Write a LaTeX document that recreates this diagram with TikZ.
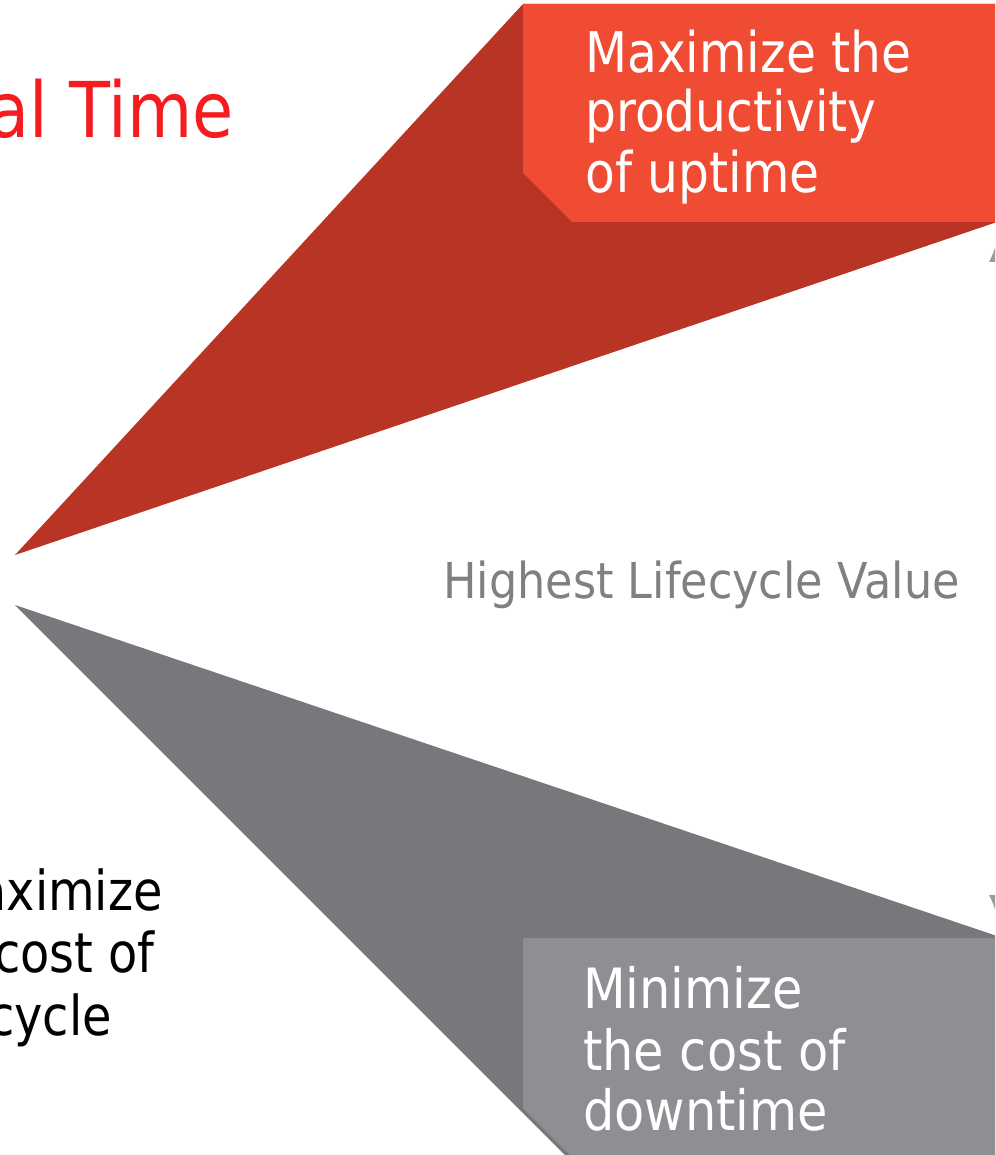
\documentclass[tikz,border=0pt]{standalone}
\usepackage{fontspec}
\newfontfamily\tah[FakeStretch=0.87]{DejaVu Sans}
\newfontfamily\tahw[FakeStretch=0.89]{DejaVu Sans}
\newfontfamily\tahh[FakeStretch=0.90]{DejaVu Sans}
\usetikzlibrary{arrows.meta}
\definecolor{boxred}{HTML}{F04B33}
\definecolor{darkred}{HTML}{B83424}
\definecolor{darkgray}{HTML}{77787B}
\definecolor{boxgray}{HTML}{8E8F93}
\definecolor{titlered}{HTML}{F51C20}
\definecolor{midgray}{HTML}{7F8084}
\definecolor{arrowgray}{HTML}{9A9B9E}
\tikzset{
  boxtxt/.style={anchor=base west, inner sep=0pt, text=white, font=\tah\fontsize{56}{60}\selectfont},
  boxtxtb/.style={anchor=base west, inner sep=0pt, text=white, font=\tahw\fontsize{55.5}{60}\selectfont},
  sidetxt/.style={anchor=base east, inner sep=0pt, text=black, font=\tah\fontsize{55}{60}\selectfont},
}
\begin{document}
\begin{tikzpicture}[x=1pt,y=-1pt]
\useasboundingbox (0,0) rectangle (995,1155);
\clip (0,0) rectangle (995,1155);
% wedges
\fill[darkred] (15,555) -- (523,4) -- (1000,4) -- (1000,221) -- cycle;
\fill[darkgray] (15,605) -- (1000,937) -- (1000,1160) -- (570,1160) -- cycle;
% boxes
\fill[boxred] (523,4) -- (1000,4) -- (1000,222) -- (572,222) -- (523,173) -- cycle;
\fill[boxgray] (523,938) -- (1000,938) -- (1000,1160) -- (575,1160) -- (523,1108) -- cycle;
% arrow
\coordinate (atop) at (997,240);
\coordinate (abot) at (997,917);
\draw[arrowgray, line width=2pt, {Latex[length=22pt,width=16pt]}-{Latex[length=22pt,width=16pt]}] (atop) -- (abot);
% texts
\node[anchor=base east, inner sep=0pt, text=titlered, font=\tah\fontsize{77}{80}\selectfont] (title) at (234,138) {al Time};
\node[anchor=base west, inner sep=0pt, text=midgray, font=\tahh\fontsize{49.5}{52}\selectfont] (hlv) at (443,598) {Highest Lifecycle Value};
\node[boxtxt] (m1) at (585,73) {Maximize the};
\node[boxtxt] (m2) at (585,132) {productivity};
\node[boxtxt] (m3) at (585,193) {of uptime};
\node[boxtxtb] (n1) at (583,1008) {Minimize};
\node[boxtxtb] (n2) at (583,1070) {the cost of};
\node[boxtxtb] (n3) at (583,1130) {downtime};
\node[sidetxt] (s1) at (163,910) {aximize};
\node[sidetxt] (s2) at (155,972) {cost of};
\node[sidetxt] (s3) at (112,1035) {cycle};
\end{tikzpicture}
\end{document}
